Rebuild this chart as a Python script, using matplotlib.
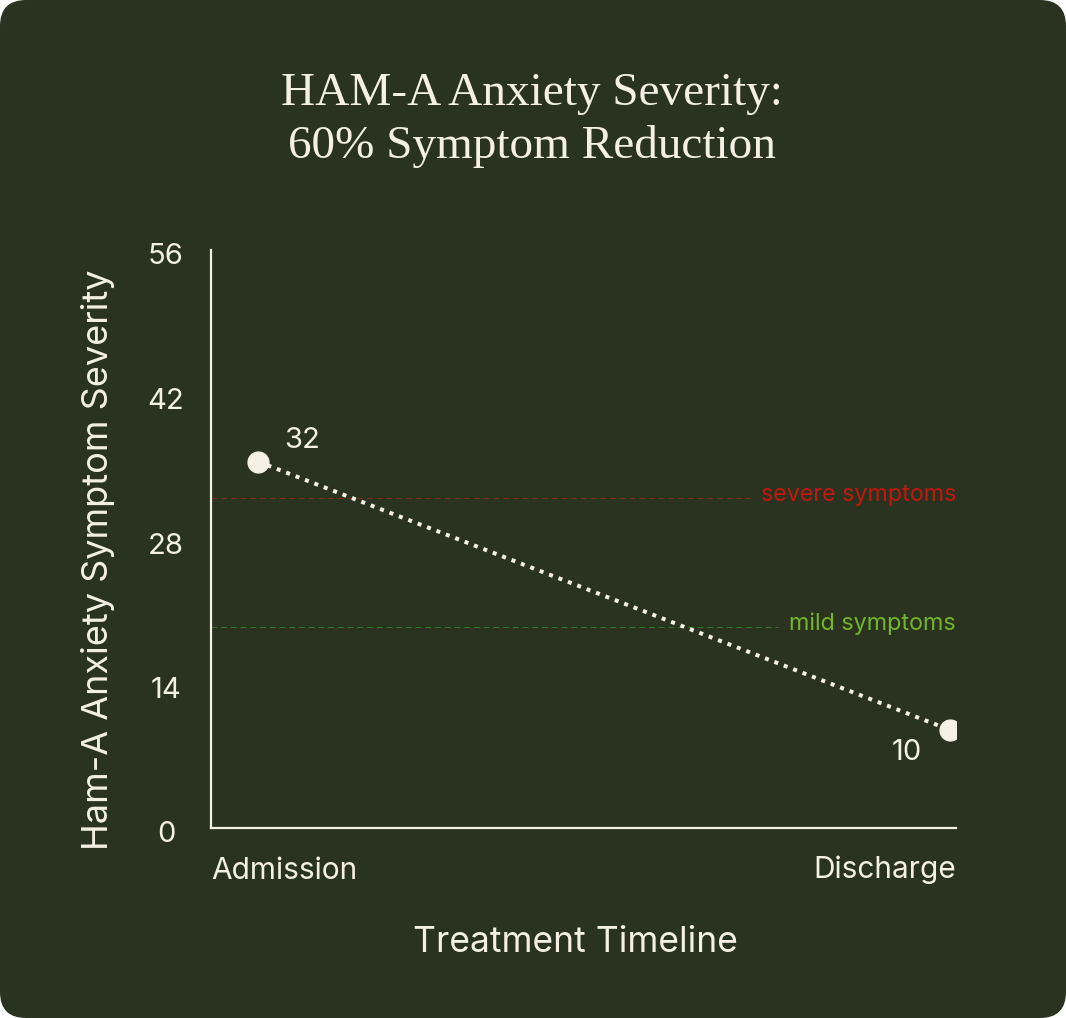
import matplotlib
matplotlib.use("Agg")
from matplotlib import pyplot as plt
from matplotlib.patches import FancyBboxPatch
from matplotlib.transforms import ScaledTranslation

# data
stages = ["Admission", "Discharge"]
marker_y = [35.5, 9.5]          # where the points sit on the axis
score_labels = ["32", "10"]     # the annotated scores
y_ticks = [0, 14, 28, 42, 56]
threshold_names = ["severe symptoms", "mild symptoms"]
threshold_values = [32, 19.5]

BG = "#29331f"
CREAM = "#f4f0e4"
THRESH_COLORS = ["#c2180f", "#74b52a"]
LINE_COLORS = ["#c8261c", "#2fb52a"]
SANS = ["Inter", "DejaVu Sans"]
SERIF = ["Liberation Serif", "DejaVu Serif"]

fig = plt.figure(figsize=(10.66, 10.18), dpi=100)
fig.patch.set_facecolor("white")
bg = FancyBboxPatch((0, 0), 10.66, 10.18, boxstyle="round,pad=0,rounding_size=0.26",
                    transform=fig.dpi_scale_trans, facecolor=BG, edgecolor="none", zorder=-10)
fig.patches.append(bg)

ax = fig.add_axes([211 / 1066, 1 - 828 / 1018, 745 / 1066, 578 / 1018])
ax.set_facecolor("none")

x = list(range(len(stages)))
ax.set_xlim(-0.068, 1.0087)
ax.set_ylim(0, 56)

# threshold lines + labels
line_ends = [0.7235, 0.761]
for name, val, tc, lc, xe in zip(threshold_names, threshold_values, THRESH_COLORS, LINE_COLORS, line_ends):
    ax.axhline(val, xmin=0, xmax=xe, color=lc, lw=0.7, alpha=0.55,
               linestyle=(0, (6, 4)), zorder=1)
    ax.text(1.0, val + 0.25, name, transform=ax.get_yaxis_transform(),
            ha="right", va="center", color=tc, fontsize=16.8, family=SANS)

# trend line
ax.plot(x, marker_y, color=CREAM, lw=2.9, linestyle=(0, (1.0, 1.5)),
        dash_capstyle="butt", zorder=3)
ax.plot(x, marker_y, linestyle="none", marker="o", markersize=15,
        color=CREAM, zorder=4)

ax.annotate(score_labels[0], (x[0], marker_y[0]), xytext=(32, 15), textcoords="offset points",
            ha="center", va="center", color=CREAM, fontsize=21, family=SANS)
ax.annotate(score_labels[1], (x[1], marker_y[1]), xytext=(-31, -16), textcoords="offset points",
            ha="center", va="center", color=CREAM, fontsize=21, family=SANS)

# axes styling
for side in ["top", "right"]:
    ax.spines[side].set_visible(False)
for side in ["left", "bottom"]:
    ax.spines[side].set_color(CREAM)
    ax.spines[side].set_linewidth(1.6)

# y tick labels drawn by hand so they can sit a little lower, like the reference
ax.set_yticks(y_ticks)
ax.set_yticklabels([])
ax.tick_params(axis="y", length=0)
ax.set_xticks([])
tick_tr = ax.get_yaxis_transform() + ScaledTranslation(-45 / 100, -7 / 100, fig.dpi_scale_trans)
for t in y_ticks:
    ax.text(0, t, str(t), transform=tick_tr, ha="center", va="center",
            color=CREAM, fontsize=21, family=SANS, clip_on=False)

ax.text(0.0, -0.074, stages[0], transform=ax.transAxes, ha="left", va="center",
        color=CREAM, fontsize=21.5, family=SANS)
ax.text(1.0, -0.072, stages[1], transform=ax.transAxes, ha="right", va="center",
        color=CREAM, fontsize=21.5, family=SANS)

fig.text(575 / 1066, 1 - 943 / 1018, "Treatment Timeline", ha="center", va="center",
         color=CREAM, fontsize=25.5, family=SANS)
fig.text(98 / 1066, 1 - 560 / 1018, "Ham-A Anxiety Symptom Severity", ha="center", va="center",
         rotation=90, color=CREAM, fontsize=26, family=SANS)

fig.text(532 / 1066, 1 - 120 / 1018, "HAM-A Anxiety Severity:\n60% Symptom Reduction",
         ha="center", va="center", color=CREAM, fontsize=34, family=SERIF, linespacing=1.3)

fig.savefig("out.png", dpi=100, facecolor=fig.get_facecolor())
